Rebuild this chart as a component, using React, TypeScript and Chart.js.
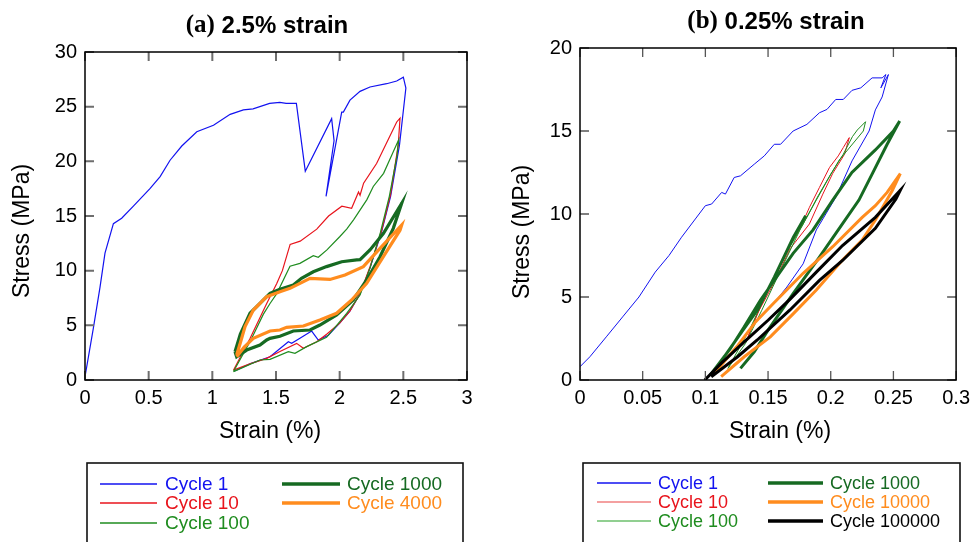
import React, { useEffect, useRef } from "react";
import { Chart, registerables } from "chart.js";

Chart.register(...registerables);

type XY = [number, number];

// ---------- Panel (a): 2.5% strain ----------
const A_TITLE_PREFIX = "(a)";
const A_TITLE_REST = " 2.5% strain";
const A_LABELS = ["Cycle 1", "Cycle 10", "Cycle 100", "Cycle 1000", "Cycle 4000"];
const A_X_TICKS = [0, 0.5, 1, 1.5, 2, 2.5, 3];
const A_X_LABELS = ["0", "0.5", "1", "1.5", "2", "2.5", "3"];
const A_Y_TICKS = [0, 5, 10, 15, 20, 25, 30];
const A_Y_LABELS = ["0", "5", "10", "15", "20", "25", "30"];

const A_CYCLE_1: XY[] = [
  [0, 0.3], [0.065, 4.7], [0.118, 8.5], [0.157, 11.6], [0.223, 14.3], [0.288, 14.8],
  [0.38, 15.9], [0.51, 17.5], [0.59, 18.6], [0.668, 20.1], [0.76, 21.4], [0.878, 22.7],
  [1.009, 23.3], [1.14, 24.3], [1.244, 24.7], [1.32, 24.8], [1.45, 25.3], [1.53, 25.4],
  [1.58, 25.3], [1.66, 25.3], [1.73, 19.1], [1.937, 23.9], [1.956, 21.9], [1.893, 16.8],
  [2.016, 24.5], [2.029, 24.5], [2.081, 25.6], [2.16, 26.4], [2.238, 26.8], [2.369, 27.1],
  [2.448, 27.35], [2.5, 27.7], [2.52, 26.7], [2.47, 21.5], [2.4, 16.8], [2.33, 13.6],
  [2.24, 10.3], [2.16, 7.9], [2.08, 6.3], [2.0, 5.2], [1.911, 4.1], [1.832, 3.66],
  [1.78, 4.48], [1.688, 3.81], [1.623, 3.35], [1.597, 3.5], [1.453, 2.13], [1.3, 1.5],
  [1.17, 0.8],
];
const A_CYCLE_10: XY[] = [
  [1.166, 0.9], [1.296, 3.8], [1.427, 7.0], [1.505, 8.8], [1.55, 10.0], [1.611, 12.4],
  [1.69, 12.7], [1.82, 13.8], [1.913, 15.0], [2.017, 15.9], [2.094, 15.7], [2.148, 17.2],
  [2.16, 16.9], [2.188, 18.0], [2.29, 19.8], [2.448, 23.6], [2.474, 23.95],
  [2.46, 21.5], [2.4, 17.0], [2.33, 13.7], [2.24, 10.4], [2.16, 7.9], [2.08, 6.3],
  [2.0, 5.2], [1.9, 4.2], [1.82, 3.5], [1.715, 2.9], [1.662, 3.35], [1.531, 2.6],
  [1.427, 1.98], [1.3, 1.5], [1.166, 0.9],
];
const A_CYCLE_100: XY[] = [
  [1.166, 0.77], [1.3, 3.6], [1.4, 6.0], [1.453, 7.0], [1.506, 7.9], [1.61, 10.4],
  [1.688, 10.67], [1.793, 11.37], [1.832, 11.22], [1.9, 11.9], [2.0, 13.1], [2.055, 13.8],
  [2.109, 14.65], [2.214, 16.5], [2.264, 17.7], [2.345, 18.9], [2.463, 21.97],
  [2.45, 20.5], [2.39, 16.8], [2.32, 13.5], [2.24, 10.3], [2.16, 7.77], [2.055, 6.1],
  [1.97, 4.9], [1.897, 3.9], [1.741, 3.05], [1.649, 2.44], [1.597, 2.59], [1.453, 1.89],
  [1.374, 1.83], [1.166, 0.77],
];
const A_CYCLE_1000: XY[] = [
  [1.178, 2.59], [1.22, 4.2], [1.296, 6.1], [1.374, 7.0], [1.453, 7.93], [1.531, 8.3],
  [1.636, 8.69], [1.7, 9.3], [1.793, 9.9], [1.897, 10.37], [2.016, 10.82], [2.134, 10.98],
  [2.16, 11.0], [2.238, 11.9], [2.343, 13.4], [2.487, 16.16],
  [2.421, 13.87], [2.317, 11.28], [2.212, 9.15], [2.107, 7.32], [1.976, 5.95],
  [1.845, 5.03], [1.767, 4.57], [1.636, 4.48], [1.531, 4.0], [1.453, 3.81], [1.427, 3.66],
  [1.374, 3.2], [1.27, 2.74], [1.191, 2.13], [1.178, 2.59],
];
const A_CYCLE_4000: XY[] = [
  [1.191, 2.29], [1.22, 3.4], [1.257, 4.88], [1.322, 6.4], [1.427, 7.62], [1.531, 8.08],
  [1.61, 8.38], [1.767, 9.3], [1.924, 9.2], [2.042, 9.6], [2.186, 10.37], [2.317, 12.04],
  [2.487, 14.18],
  [2.474, 13.7], [2.343, 11.28], [2.212, 8.84], [2.094, 7.32], [1.976, 6.1], [1.845, 5.49],
  [1.715, 4.94], [1.584, 4.82], [1.531, 4.57], [1.453, 4.48], [1.322, 3.81], [1.25, 3.0],
  [1.191, 2.13],
];

// ---------- Panel (b): 0.25% strain ----------
const B_TITLE_PREFIX = "(b)";
const B_TITLE_REST = " 0.25% strain";
const B_LABELS = ["Cycle 1", "Cycle 10", "Cycle 100", "Cycle 1000", "Cycle 10000", "Cycle 100000"];
const B_X_TICKS = [0, 0.05, 0.1, 0.15, 0.2, 0.25, 0.3];
const B_X_LABELS = ["0", "0.05", "0.1", "0.15", "0.2", "0.25", "0.3"];
const B_Y_TICKS = [0, 5, 10, 15, 20];
const B_Y_LABELS = ["0", "5", "10", "15", "20"];

const B_CYCLE_1: XY[] = [
  [0, 0.8], [0.0079, 1.4], [0.021, 2.6], [0.034, 3.8], [0.047, 5.0], [0.06, 6.5],
  [0.071, 7.5], [0.081, 8.6], [0.092, 9.7], [0.1, 10.5], [0.105, 10.6], [0.113, 11.3],
  [0.116, 11.2], [0.123, 12.2], [0.128, 12.3], [0.139, 13.0], [0.147, 13.5], [0.155, 14.2],
  [0.16, 14.2], [0.17, 15.0], [0.181, 15.4], [0.191, 16.1], [0.197, 16.3], [0.204, 16.9],
  [0.21, 16.9], [0.217, 17.45], [0.224, 17.6], [0.233, 18.2], [0.241, 18.2], [0.244, 18.4],
  [0.24, 17.6], [0.246, 18.4], [0.241, 17.05], [0.2356, 16.27], [0.2306, 15.0],
  [0.217, 13.2], [0.204, 11.0], [0.1885, 9.04], [0.178, 7.0], [0.165, 5.6], [0.152, 4.38],
];
const B_CYCLE_10: XY[] = [
  [0.134, 2.6], [0.144, 4.4], [0.155, 6.2], [0.165, 7.8], [0.176, 9.2], [0.183, 10.4],
  [0.191, 11.6], [0.199, 12.8], [0.206, 13.5], [0.21, 14.0], [0.2148, 14.6],
  [0.211, 13.6], [0.2016, 12.45], [0.1937, 11.2], [0.183, 9.4], [0.1675, 7.9],
  [0.1544, 5.8], [0.1414, 4.0], [0.134, 2.6],
];
const B_CYCLE_100: XY[] = [
  [0.118, 0.7], [0.135, 3.0], [0.15, 5.4], [0.165, 7.7], [0.178, 9.4], [0.19, 11.1],
  [0.2, 12.4], [0.21, 13.6], [0.2173, 14.66], [0.2212, 15.06], [0.2278, 15.56],
  [0.226, 15.0], [0.2068, 13.25], [0.199, 12.25], [0.1885, 10.84], [0.1754, 9.04],
  [0.16, 6.6], [0.145, 4.2], [0.132, 2.2], [0.118, 0.7],
];
const B_CYCLE_1000: XY[] = [
  [0.128, 0.7], [0.139, 1.7], [0.15, 3.0], [0.17, 5.2], [0.19, 7.3], [0.206, 9.04],
  [0.2225, 10.84], [0.233, 12.4], [0.245, 14.2], [0.255, 15.6],
  [0.25, 15.0], [0.2356, 13.86], [0.2169, 12.5], [0.2016, 10.84], [0.1859, 9.04],
  [0.17, 7.63], [0.157, 6.22], [0.144, 4.82], [0.131, 3.2], [0.12, 1.9], [0.104, 0.3],
  [0.115, 1.4], [0.13, 3.0], [0.1414, 4.2], [0.155, 6.2], [0.1702, 8.6], [0.18, 9.9],
];
const B_CYCLE_10000: XY[] = [
  [0.106, 0.3], [0.125, 2.0], [0.14, 3.5], [0.1544, 4.62], [0.178, 6.43], [0.2016, 8.03],
  [0.2251, 9.8], [0.2356, 10.5], [0.245, 11.3], [0.2555, 12.44],
  [0.249, 11.4], [0.2356, 9.64], [0.2251, 8.43], [0.2094, 7.23], [0.1885, 5.42],
  [0.1702, 4.0], [0.1518, 2.6], [0.131, 1.4], [0.1126, 0.2],
];
const B_CYCLE_100000: XY[] = [
  [0.0995, 0], [0.1126, 1.0], [0.131, 2.3], [0.15, 3.6], [0.168, 4.9], [0.1885, 6.5],
  [0.2094, 8.1], [0.2356, 9.8], [0.2555, 11.43],
  [0.252, 10.9], [0.2356, 9.14], [0.2094, 7.2], [0.191, 6.0], [0.1675, 4.22],
  [0.1414, 2.41], [0.1257, 1.4], [0.1047, 0.2],
];

// ---------- styles ----------
const BLUE = "#1212f0";
const RED = "#e8141c";
const GREEN = "#1f8c1f";
const DKGREEN = "#166a22";
const ORANGE = "#ff8c1e";
const BLACK = "#000000";
const SANS = '"Liberation Sans", Arial, Helvetica, sans-serif';
const SERIF = '"Liberation Serif", "Times New Roman", serif';

interface Series { label: string; data: XY[]; color: string; width: number; legendColor?: string }
interface Panel {
  width: number;
  area: { left: number; right: number; top: number; bottom: number };
  xMax: number; yMax: number;
  xTicks: number[]; xLabels: string[]; yTicks: number[]; yLabels: string[];
  series: Series[];
  titlePrefix: string; titleRest: string; titleX: number; titleY: number;
  xTitleX: number; yTitleX: number; yTitleY: number;
  tickColor: string; tickWidth: number;
  legend: { box: [number, number, number]; cols: [number, number, number][]; rows: number[]; perCol: number; font: number };
}

const PANEL_A: Panel = {
  width: 490,
  area: { left: 85, right: 467, top: 52, bottom: 380 },
  xMax: 3, yMax: 30,
  xTicks: A_X_TICKS, xLabels: A_X_LABELS, yTicks: A_Y_TICKS, yLabels: A_Y_LABELS,
  series: [
    { label: A_LABELS[0], data: A_CYCLE_1, color: BLUE, width: 1.2 },
    { label: A_LABELS[1], data: A_CYCLE_10, color: RED, width: 1.2 },
    { label: A_LABELS[2], data: A_CYCLE_100, color: GREEN, width: 1.2 },
    { label: A_LABELS[3], data: A_CYCLE_1000, color: DKGREEN, width: 3.2 },
    { label: A_LABELS[4], data: A_CYCLE_4000, color: ORANGE, width: 3.2 },
  ],
  titlePrefix: A_TITLE_PREFIX, titleRest: A_TITLE_REST, titleX: 267, titleY: 25,
  xTitleX: 270, yTitleX: 23, yTitleY: 231,
  tickColor: "#6e6e6e", tickWidth: 2,
  legend: { box: [87, 463, 463], cols: [[100, 157, 165], [282, 340, 347]], rows: [484, 503, 523], perCol: 3, font: 19 },
};

const PANEL_B: Panel = {
  width: 486,
  area: { left: 90, right: 472, top: 48, bottom: 380 },
  xMax: 0.3, yMax: 20,
  xTicks: B_X_TICKS, xLabels: B_X_LABELS, yTicks: B_Y_TICKS, yLabels: B_Y_LABELS,
  series: [
    { label: B_LABELS[0], data: B_CYCLE_1, color: BLUE, width: 1.0 },
    { label: B_LABELS[1], data: B_CYCLE_10, color: RED, width: 1.0, legendColor: "#f08080" },
    { label: B_LABELS[2], data: B_CYCLE_100, color: GREEN, width: 1.0, legendColor: "#6cbf6c" },
    { label: B_LABELS[3], data: B_CYCLE_1000, color: DKGREEN, width: 3.0 },
    { label: B_LABELS[4], data: B_CYCLE_10000, color: ORANGE, width: 3.0 },
    { label: B_LABELS[5], data: B_CYCLE_100000, color: BLACK, width: 3.0 },
  ],
  titlePrefix: B_TITLE_PREFIX, titleRest: B_TITLE_REST, titleX: 286, titleY: 21,
  xTitleX: 290, yTitleX: 33, yTitleY: 232,
  tickColor: "#555555", tickWidth: 1.3,
  legend: { box: [93, 470, 463], cols: [[107, 161, 168], [278, 333, 340]], rows: [483, 502, 521], perCol: 3, font: 18 },
};

const HEIGHT = 542;

function makeDeco(p: Panel) {
  return {
    id: "deco",
    afterDraw(chart: any) {
      const { ctx, chartArea: ca } = chart;
      const xs = chart.scales.x;
      const ys = chart.scales.y;
      const L = 9;
      ctx.save();
      // inward tick marks on all four sides
      ctx.strokeStyle = p.tickColor;
      ctx.lineWidth = p.tickWidth;
      ctx.beginPath();
      for (const t of xs.ticks) {
        const px = xs.getPixelForValue(t.value);
        ctx.moveTo(px, ca.bottom); ctx.lineTo(px, ca.bottom - L);
        ctx.moveTo(px, ca.top); ctx.lineTo(px, ca.top + L);
      }
      for (const t of ys.ticks) {
        const py = ys.getPixelForValue(t.value);
        ctx.moveTo(ca.left, py); ctx.lineTo(ca.left + L, py);
        ctx.moveTo(ca.right, py); ctx.lineTo(ca.right - L, py);
      }
      ctx.stroke();
      // frame
      ctx.strokeStyle = "#000";
      ctx.lineWidth = 1.5;
      ctx.strokeRect(ca.left, ca.top, ca.right - ca.left, ca.bottom - ca.top);

      // panel title: serif prefix + sans bold rest
      ctx.fillStyle = "#000";
      ctx.textBaseline = "middle";
      ctx.textAlign = "left";
      const fSerif = `bold 25px ${SERIF}`;
      const fSans = `bold 24px ${SANS}`;
      ctx.font = fSerif;
      const w1 = ctx.measureText(p.titlePrefix).width;
      ctx.font = fSans;
      const w2 = ctx.measureText(p.titleRest).width;
      const x0 = p.titleX - (w1 + w2) / 2;
      ctx.font = fSerif;
      ctx.fillText(p.titlePrefix, x0, p.titleY + 1);
      ctx.font = fSans;
      ctx.fillText(p.titleRest, x0 + w1, p.titleY + 1);

      // axis titles
      ctx.font = `23px ${SANS}`;
      ctx.textAlign = "center";
      ctx.fillText("Strain (%)", p.xTitleX, 432);
      ctx.save();
      ctx.translate(p.yTitleX, p.yTitleY);
      ctx.rotate(-Math.PI / 2);
      ctx.fillText("Stress (MPa)", 0, 0);
      ctx.restore();

      // legend box
      const lg = p.legend;
      ctx.strokeStyle = "#111";
      ctx.lineWidth = 1.6;
      ctx.strokeRect(lg.box[0], lg.box[2], lg.box[1] - lg.box[0], HEIGHT + 10 - lg.box[2]);
      ctx.textAlign = "left";
      ctx.font = `${lg.font}px ${SANS}`;
      chart.data.datasets.forEach((ds: any, i: number) => {
        const s = p.series[i];
        const col = lg.cols[Math.floor(i / lg.perCol)];
        const y = lg.rows[i % lg.perCol];
        ctx.strokeStyle = s.legendColor || s.color;
        ctx.lineWidth = s.width > 2 ? 3.4 : 1.5;
        ctx.beginPath();
        ctx.moveTo(col[0], y);
        ctx.lineTo(col[1], y);
        ctx.stroke();
        ctx.fillStyle = s.color;
        ctx.fillText(ds.label, col[2], y + 1);
      });
      ctx.restore();
    },
  };
}

function buildConfig(p: Panel): any {
  const n = p.series.length;
  const tickFont = { family: SANS, size: 20 };
  return {
    type: "line",
    data: {
      datasets: p.series.map((s, i) => ({
        label: s.label,
        data: s.data.map(([x, y]) => ({ x, y })),
        borderColor: s.color,
        backgroundColor: s.color,
        borderWidth: s.width,
        pointRadius: 0,
        pointHoverRadius: 0,
        tension: 0,
        fill: false,
        order: n - i,
      })),
    },
    options: {
      responsive: false,
      animation: false,
      devicePixelRatio: 1,
      events: [],
      layout: { padding: { left: 0, right: p.width - p.area.right, top: p.area.top, bottom: 0 } },
      plugins: { legend: { display: false }, title: { display: false }, tooltip: { enabled: false } },
      scales: {
        x: {
          type: "linear",
          min: 0,
          max: p.xMax,
          grid: { display: false, drawTicks: false },
          border: { display: false },
          afterBuildTicks: (s: any) => { s.ticks = p.xTicks.map((value) => ({ value })); },
          afterFit: (s: any) => { s.height = HEIGHT - p.area.bottom; },
          ticks: {
            autoSkip: false,
            maxRotation: 0,
            padding: 6,
            color: "#000",
            font: tickFont,
            callback: (_v: any, i: number) => p.xLabels[i],
          },
        },
        y: {
          type: "linear",
          min: 0,
          max: p.yMax,
          grid: { display: false, drawTicks: false },
          border: { display: false },
          afterBuildTicks: (s: any) => { s.ticks = p.yTicks.map((value) => ({ value })); },
          afterFit: (s: any) => { s.width = p.area.left; },
          ticks: {
            padding: 8,
            color: "#000",
            font: tickFont,
            callback: (_v: any, i: number) => p.yLabels[i],
          },
        },
      },
    },
    plugins: [makeDeco(p)],
  };
}

export default function App() {
  const refA = useRef<HTMLCanvasElement>(null);
  const refB = useRef<HTMLCanvasElement>(null);
  useEffect(() => {
    const a = new Chart(refA.current as HTMLCanvasElement, buildConfig(PANEL_A));
    const b = new Chart(refB.current as HTMLCanvasElement, buildConfig(PANEL_B));
    return () => {
      a.destroy();
      b.destroy();
    };
  }, []);
  return (
    <div style={{ position: "absolute", left: 0, top: 0, width: 976, height: HEIGHT, background: "#fff", overflow: "hidden" }}>
      <canvas ref={refA} width={PANEL_A.width} height={HEIGHT} style={{ position: "absolute", left: 0, top: 0 }} />
      <canvas ref={refB} width={PANEL_B.width} height={HEIGHT} style={{ position: "absolute", left: 490, top: 0 }} />
    </div>
  );
}
